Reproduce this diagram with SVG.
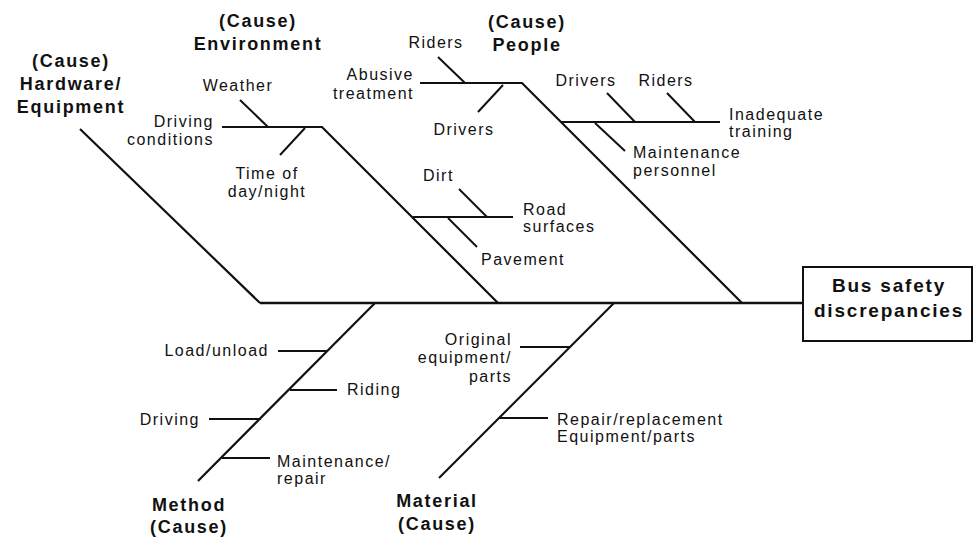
<svg xmlns="http://www.w3.org/2000/svg" width="974" height="543" viewBox="0 0 974 543">
  <style>
    .t { font-family: "Liberation Sans", Arial, sans-serif; font-size: 16px; letter-spacing: 1.5px; fill: #111; }
    .b { font-family: "Liberation Sans", Arial, sans-serif; font-size: 18px; font-weight: bold; letter-spacing: 1.7px; fill: #111; }
    .big { font-size: 19px; letter-spacing: 1.8px; }
    .m { text-anchor: middle; }
    .e { text-anchor: end; }
    .bone { stroke: #111; stroke-width: 2.2; fill: none; stroke-linecap: butt; }
    .spine { stroke: #111; stroke-width: 2.6; fill: none; }
    .tick { stroke: #111; stroke-width: 2; fill: none; }
  </style>
  <rect width="974" height="543" fill="#fff"/>

  <!-- fishbone connectors -->
  <g id="connectors">
    <line class="spine" x1="260" y1="303" x2="803" y2="303"/>
    <!-- hardware / equipment -->
    <line class="bone" x1="80" y1="129" x2="260" y2="303"/>
    <!-- environment -->
    <polyline class="bone" points="222,127 322,127 498,303"/>
    <line class="tick" x1="240" y1="100" x2="268" y2="127"/>
    <line class="tick" x1="305" y1="128" x2="280" y2="155"/>
    <line class="tick" x1="413" y1="217" x2="513" y2="217"/>
    <line class="tick" x1="459" y1="189" x2="487" y2="217"/>
    <line class="tick" x1="448" y1="218" x2="477" y2="247"/>
    <!-- people -->
    <polyline class="bone" points="420,83 522,83 742,303"/>
    <line class="tick" x1="438" y1="57" x2="465" y2="83"/>
    <line class="tick" x1="503" y1="85" x2="478" y2="112"/>
    <line class="tick" x1="561" y1="122" x2="720" y2="122"/>
    <line class="tick" x1="607" y1="93" x2="635" y2="122"/>
    <line class="tick" x1="667" y1="93" x2="695" y2="122"/>
    <line class="tick" x1="595" y1="123" x2="625" y2="151"/>
    <!-- method -->
    <line class="bone" x1="375" y1="303" x2="198" y2="481"/>
    <line class="tick" x1="278" y1="351" x2="327" y2="351"/>
    <line class="tick" x1="290" y1="390" x2="337" y2="390"/>
    <line class="tick" x1="209" y1="419" x2="261" y2="419"/>
    <line class="tick" x1="222" y1="458" x2="270" y2="458"/>
    <!-- material -->
    <line class="bone" x1="614" y1="303" x2="439" y2="478"/>
    <line class="tick" x1="520" y1="347" x2="570" y2="347"/>
    <line class="tick" x1="499" y1="418" x2="548" y2="418"/>
  </g>

  <!-- effect -->
  <g id="effect">
    <rect x="803" y="267" width="169" height="74" fill="#fff" stroke="#111" stroke-width="2"/>
    <text class="b big m" x="889" y="292">Bus safety</text>
    <text class="b big m" x="889" y="317">discrepancies</text>
  </g>

  <!-- cause categories -->
  <g id="cause-hardware">
    <text class="b m" x="71" y="67">(Cause)</text>
    <text class="b m" x="71" y="90">Hardware/</text>
    <text class="b m" x="71" y="113">Equipment</text>
  </g>
  <g id="cause-environment">
    <text class="b m" x="258" y="27">(Cause)</text>
    <text class="b m" x="258" y="50">Environment</text>
  </g>
  <g id="cause-people">
    <text class="b m" x="527" y="28">(Cause)</text>
    <text class="b m" x="527" y="51">People</text>
  </g>
  <g id="cause-method">
    <text class="b m" x="189" y="511">Method</text>
    <text class="b m" x="189" y="533">(Cause)</text>
  </g>
  <g id="cause-material">
    <text class="b m" x="437" y="507">Material</text>
    <text class="b m" x="437" y="530">(Cause)</text>
  </g>

  <!-- environment factors -->
  <g id="weather"><text class="t m" x="238" y="91">Weather</text></g>
  <g id="driving-conditions">
    <text class="t e" x="214" y="127">Driving</text>
    <text class="t e" x="214" y="145">conditions</text>
  </g>
  <g id="time-of-day">
    <text class="t m" x="267" y="179">Time of</text>
    <text class="t m" x="267" y="197">day/night</text>
  </g>
  <g id="dirt"><text class="t" x="423" y="181">Dirt</text></g>
  <g id="road-surfaces">
    <text class="t" x="523" y="215">Road</text>
    <text class="t" x="523" y="232">surfaces</text>
  </g>
  <g id="pavement"><text class="t" x="481" y="265">Pavement</text></g>

  <!-- people factors -->
  <g id="riders-abuse"><text class="t m" x="436" y="48">Riders</text></g>
  <g id="abusive-treatment">
    <text class="t e" x="414" y="80">Abusive</text>
    <text class="t e" x="414" y="99">treatment</text>
  </g>
  <g id="drivers-abuse"><text class="t m" x="464" y="135">Drivers</text></g>
  <g id="drivers-training"><text class="t m" x="586" y="86">Drivers</text></g>
  <g id="riders-training"><text class="t m" x="666" y="86">Riders</text></g>
  <g id="inadequate-training">
    <text class="t" x="729" y="120">Inadequate</text>
    <text class="t" x="729" y="137">training</text>
  </g>
  <g id="maintenance-personnel">
    <text class="t" x="633" y="158">Maintenance</text>
    <text class="t" x="633" y="176">personnel</text>
  </g>

  <!-- method factors -->
  <g id="load-unload"><text class="t e" x="269" y="356">Load/unload</text></g>
  <g id="riding"><text class="t" x="347" y="395">Riding</text></g>
  <g id="driving"><text class="t e" x="200" y="425">Driving</text></g>
  <g id="maintenance-repair">
    <text class="t" x="277" y="467">Maintenance/</text>
    <text class="t" x="277" y="484">repair</text>
  </g>

  <!-- material factors -->
  <g id="original-parts">
    <text class="t e" x="512" y="345">Original</text>
    <text class="t e" x="512" y="363">equipment/</text>
    <text class="t e" x="512" y="382">parts</text>
  </g>
  <g id="replacement-parts">
    <text class="t" x="557" y="425">Repair/replacement</text>
    <text class="t" x="557" y="442">Equipment/parts</text>
  </g>
</svg>
